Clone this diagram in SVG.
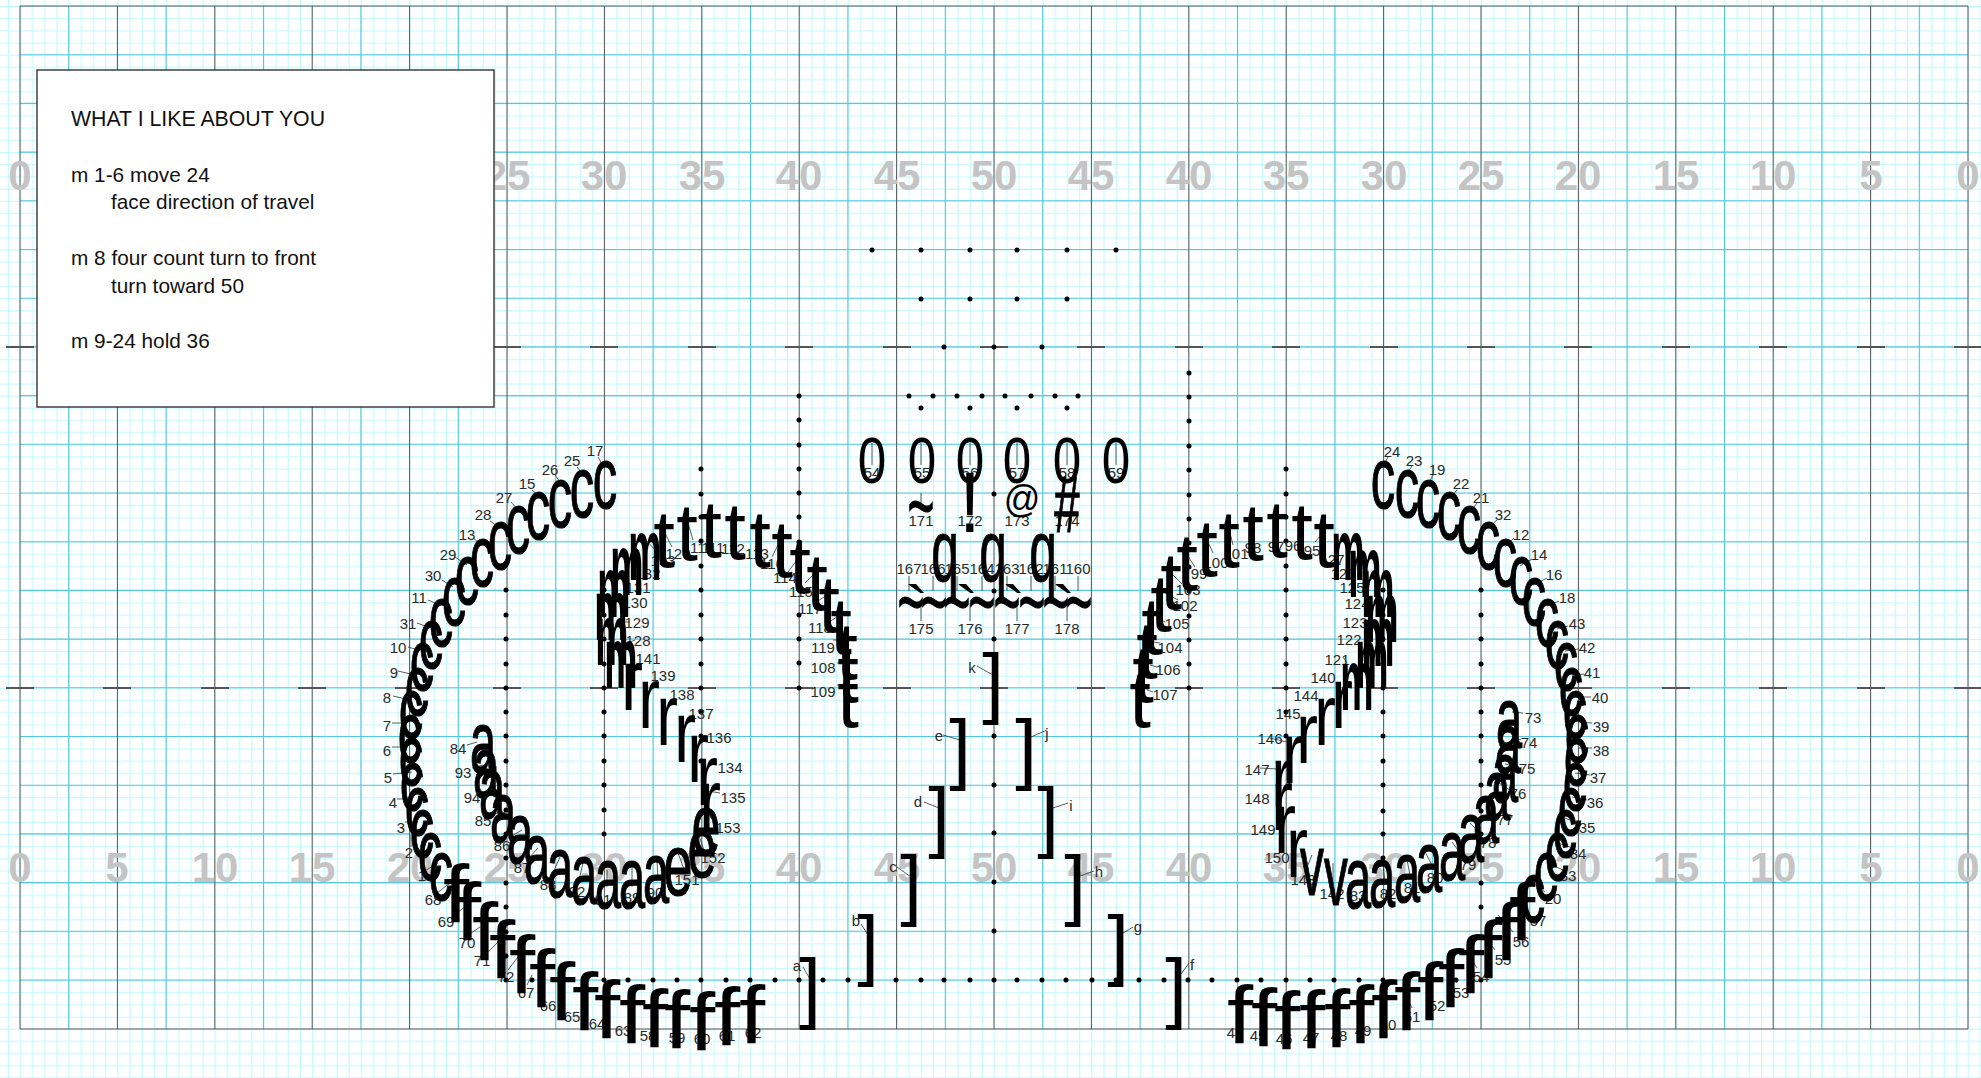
<svg xmlns="http://www.w3.org/2000/svg" width="1981" height="1078" viewBox="0 0 1981 1078">
<style>
text{font-family:"Liberation Sans",Arial,sans-serif}
.n{font-size:15px;text-anchor:middle;fill:#2a2a2a}
.y{font-size:42px;font-weight:700;text-anchor:middle;fill:#c4c4c4}
.b{font-size:20.8px;fill:#111}
.g{text-anchor:middle;fill:#000}
.c,.a,.e,.q,.v,.r,.w{font-size:87px}
.c,.a,.e,.q,.v,.h{stroke:#000;stroke-width:.9;vector-effect:non-scaling-stroke}
.t,.f{font-size:82px}
.m{font-size:87px;font-weight:700}
.z{font-size:64px}
.k{font-size:78px}
</style>
<defs>
<pattern id="fine" patternUnits="userSpaceOnUse" x="7.825" y="6" width="97.4" height="97.4">
<path d="M.5 0V97.4M12.675 0V97.4M24.85 0V97.4M37.025 0V97.4M49.2 0V97.4M61.375 0V97.4M73.55 0V97.4M85.725 0V97.4M0 .5H97.4M0 12.675H97.4M0 24.85H97.4M0 37.025H97.4M0 49.2H97.4M0 61.375H97.4M0 73.55H97.4M0 85.725H97.4" fill="none" stroke="#bdf9fc" stroke-width="1"/>
</pattern>
</defs>
<rect width="1981" height="1078" fill="#fff"/>
<rect width="1981" height="1078" fill="url(#fine)"/>
<g id="field">
<path fill="none" stroke="#58c6e0" stroke-width="1.1" d="M68.7 6V1029M166.1 6V1029M263.5 6V1029M360.9 6V1029M458.3 6V1029M555.7 6V1029M653.1 6V1029M750.5 6V1029M847.9 6V1029M945.3 6V1029M1042.7 6V1029M1140.1 6V1029M1237.5 6V1029M1334.9 6V1029M1432.3 6V1029M1529.7 6V1029M1627.1 6V1029M1724.5 6V1029M1821.9 6V1029M1919.3 6V1029M20 54.7H1968M20 103.4H1968M20 152.1H1968M20 200.8H1968M20 249.5H1968M20 298.2H1968M20 346.9H1968M20 395.6H1968M20 444.3H1968M20 493H1968M20 541.7H1968M20 590.4H1968M20 639.1H1968M20 687.8H1968M20 736.5H1968M20 785.2H1968M20 833.9H1968M20 882.6H1968M20 931.3H1968M20 980H1968"/>
<path fill="none" stroke="#555" stroke-width="1" d="M20 6V1029M117.4 6V1029M214.8 6V1029M312.2 6V1029M409.6 6V1029M507 6V1029M604.4 6V1029M701.8 6V1029M799.2 6V1029M896.6 6V1029M994 6V1029M1091.4 6V1029M1188.8 6V1029M1286.2 6V1029M1383.6 6V1029M1481 6V1029M1578.4 6V1029M1675.8 6V1029M1773.2 6V1029M1870.6 6V1029M1968 6V1029M20 6H1968M20 1029H1968"/>
<path fill="none" stroke="#555" stroke-width="2" d="M6 347h28M103 347h28M201 347h28M298 347h28M395 347h28M493 347h28M590 347h28M688 347h28M785 347h28M883 347h28M980 347h28M1077 347h28M1175 347h28M1272 347h28M1370 347h28M1467 347h28M1564 347h28M1662 347h28M1759 347h28M1857 347h28M1954 347h27M6 688h28M103 688h28M201 688h28M298 688h28M395 688h28M493 688h28M590 688h28M688 688h28M785 688h28M883 688h28M980 688h28M1077 688h28M1175 688h28M1272 688h28M1370 688h28M1467 688h28M1564 688h28M1662 688h28M1759 688h28M1857 688h28M1954 688h27"/>
</g>
<g id="yard-numbers" class="y">
<text class="y" x="20" y="190">0</text><text class="y" x="507" y="190">25</text><text class="y" x="604" y="190">30</text><text class="y" x="702" y="190">35</text><text class="y" x="799" y="190">40</text><text class="y" x="897" y="190">45</text><text class="y" x="994" y="190">50</text><text class="y" x="1091" y="190">45</text><text class="y" x="1189" y="190">40</text><text class="y" x="1286" y="190">35</text><text class="y" x="1384" y="190">30</text><text class="y" x="1481" y="190">25</text><text class="y" x="1578" y="190">20</text><text class="y" x="1676" y="190">15</text><text class="y" x="1773" y="190">10</text><text class="y" x="1871" y="190">5</text><text class="y" x="1968" y="190">0</text>
<text class="y" x="20" y="882">0</text><text class="y" x="117" y="882">5</text><text class="y" x="215" y="882">10</text><text class="y" x="312" y="882">15</text><text class="y" x="410" y="882">20</text><text class="y" x="507" y="882">25</text><text class="y" x="604" y="882">30</text><text class="y" x="702" y="882">35</text><text class="y" x="799" y="882">40</text><text class="y" x="897" y="882">45</text><text class="y" x="994" y="882">50</text><text class="y" x="1091" y="882">45</text><text class="y" x="1189" y="882">40</text><text class="y" x="1286" y="882">35</text><text class="y" x="1384" y="882">30</text><text class="y" x="1481" y="882">25</text><text class="y" x="1578" y="882">20</text><text class="y" x="1676" y="882">15</text><text class="y" x="1773" y="882">10</text><text class="y" x="1871" y="882">5</text><text class="y" x="1968" y="882">0</text>
</g>
<g id="note">
<rect x="37" y="70" width="457" height="337" fill="#fff" stroke="#333" stroke-width="1.4"/>
<text class="b" x="71" y="126" style="font-size:21.3px">WHAT I LIKE ABOUT YOU</text>
<text class="b" x="71" y="182">m 1-6 move 24</text>
<text class="b" x="111" y="209">face direction of travel</text>
<text class="b" x="71" y="265">m 8 four count turn to front</text>
<text class="b" x="111" y="293">turn toward 50</text>
<text class="b" x="71" y="348">m 9-24 hold 36</text>
</g>
<g id="dots">
<path fill="none" stroke="#000" stroke-width="5" stroke-linecap="round" d="M872 250h0M921 250h0M970 250h0M1017 250h0M1067 250h0M1116 250h0M921 299h0M970 299h0M1017 299h0M1067 299h0M944 347h0M994 347h0M1042 347h0M909 396h0M933 396h0M957 396h0M982 396h0M1005 396h0M1031 396h0M1055 396h0M1078 396h0M921 408h0M970 408h0M1017 408h0M1067 408h0M994 494h0M994 591h0M994 639h0M994 688h0M994 736h0M994 785h0M994 833h0M994 882h0M994 931h0
M799 396h0M799 420h0M799 445h0M799 469h0M799 493h0M799 517h0M799 542h0M799 566h0M799 590h0M799 615h0M799 639h0M799 663h0M799 688h0
M1189 373h0M1189 397h0M1189 421h0M1189 446h0M1189 470h0M1189 495h0M1189 519h0M1189 543h0M1189 567h0M1189 591h0M1189 616h0M1189 640h0M1189 664h0M1189 688h0
M506 590h0M506 615h0M506 639h0M506 664h0M506 688h0M506 712h0M506 736h0M506 761h0M506 785h0M506 810h0M506 834h0M506 858h0M506 883h0M506 907h0M506 932h0M506 956h0M506 980h0
M604 590h0M604 615h0M604 639h0M604 664h0M604 688h0M604 712h0M604 736h0M604 761h0M604 785h0M604 810h0M604 834h0
M701 469h0M701 494h0M701 517h0M701 541h0M701 566h0M701 590h0M701 615h0M701 639h0M701 664h0M701 688h0M701 712h0M701 736h0M701 761h0
M1286 469h0M1286 494h0M1286 517h0M1286 541h0M1286 566h0M1286 590h0M1286 615h0M1286 639h0M1286 664h0M1286 688h0M1286 712h0M1286 736h0
M1383 590h0M1383 615h0M1383 639h0M1383 664h0M1383 688h0M1383 712h0M1383 736h0M1383 761h0M1383 785h0M1383 811h0M1383 834h0M1383 858h0
M1481 590h0M1481 615h0M1481 639h0M1481 664h0M1481 688h0M1481 712h0M1481 736h0M1481 761h0M1481 785h0M1481 811h0M1481 834h0M1481 858h0M1481 883h0M1481 907h0
M532 980h0M604 980h0M628 980h0M653 980h0M677 980h0M701 980h0M726 980h0M750 980h0M775 980h0M799 980h0M823 980h0M848 980h0M896 980h0M921 980h0M944 980h0M970 980h0M994 980h0M1017 980h0M1042 980h0M1066 980h0M1092 980h0M1116 980h0M1139 980h0M1164 980h0M1188 980h0M1212 980h0M1237 980h0M1261 980h0M1286 980h0M1310 980h0M1334 980h0M1359 980h0M1383 980h0M1408 980h0M1432 980h0M1456 980h0M1481 980h0"/>
</g>
<g id="connectors">
<path fill="none" stroke="#333" stroke-width=".8" d="M598 457L602 464M577 467L582 473M555 475L560 482M532 490L538 495M511 502L518 510M490 521L500 528M473 538L482 545M455 557L467 565M442 580L453 587M428 600L440 605M417 623L428 627M408 647L418 650M398 671L415 675M393 696L410 700M392 723L407 723M392 747L405 747M393 774L412 772M397 799L410 799M405 822L417 822M411 835L411 847M423 872L438 863M437 893L450 883M452 917L467 905M468 935L480 927M487 953L500 940M508 970L518 957M527 985L532 975M728 1028L725 1003M753 1025L749 1000
M467 745L477 742M472 768L483 765M480 793L490 790M492 815L500 812M508 838L522 830M527 860L538 848M552 875L560 857M579 880L583 863M607 887L607 870M632 887L632 868M658 880L657 860
M685 872L678 853M705 853L697 830M717 822L707 815M717 764L710 763M720 793L708 791M658 553L643 537M672 547L665 533M693 540L688 523M772 557L778 545M788 572L797 560M805 583L813 575M815 603L827 595M827 623L837 617M833 640L842 640M837 663L845 662M837 685L845 684
M630 583L618 578M630 622L625 622M635 640L628 643
M1388 457L1385 463M1412 466L1408 472M1433 475L1429 483M1457 490L1450 498M1477 503L1472 510M1497 520L1488 528M1514 538L1505 547M1532 559L1520 566M1547 578L1533 585M1559 601L1547 606M1568 626L1557 629M1578 649L1565 651M1584 674L1572 675M1591 697L1577 697M1592 723L1578 722M1592 748L1578 748M1590 775L1575 773M1587 800L1572 797M1578 823L1565 818M1570 847L1558 843M1563 870L1552 865M1545 892L1533 883M1530 913L1522 903M1513 932L1498 915M1495 950L1485 937M1477 968L1467 952M1457 983L1448 970M1433 997L1427 980M1412 1008L1403 988M1385 1017L1380 997M1362 1023L1357 1003M1337 1028L1333 1007
M1385 882L1383 863M1410 875L1407 860M1432 865L1423 848M1463 857L1452 842M1482 835L1470 823M1498 815L1487 807M1510 790L1497 782M1517 767L1505 764M1521 740L1513 738M1523 713L1512 712
M1305 872L1312 855M1333 885L1333 863M1270 738L1287 742M1260 768L1277 769M1343 657L1347 663
M1153 692L1147 690M1157 667L1150 665M1160 643L1153 642M1165 622L1158 618M1178 600L1165 593M1182 584L1170 572M1195 567L1187 555M1213 553L1208 542M1233 545L1230 533M1315 542L1321 535
M872 443V465M921 443V465M970 443V465M1017 443V465M1067 443V465M1116 443V465M921 493V507M909 576V591M933 576V591M957 576V591M982 576V591M1007 576V591M1031 576V591M1055 576V591M1078 576V591M921 603V621M970 603V621M1017 603V621M1067 603V621
M977 666L993 675M943 735L960 740M1047 730L1031 737M924 802L939 808M1068 803L1053 808M897 867L911 877M1094 871L1080 876M861 924L868 935M1133 927L1123 933M803 967L810 979M1189 963L1181 974"/>
</g>
<g id="labels" class="n">
<text class="n" x="595" y="456">17</text><text class="n" x="572" y="466">25</text><text class="n" x="550" y="475">26</text><text class="n" x="527" y="489">15</text><text class="n" x="504" y="503">27</text><text class="n" x="483" y="520">28</text><text class="n" x="467" y="540">13</text><text class="n" x="448" y="560">29</text><text class="n" x="433" y="581">30</text><text class="n" x="419" y="603">11</text><text class="n" x="408" y="629">31</text><text class="n" x="398" y="653">10</text><text class="n" x="394" y="678">9</text><text class="n" x="387" y="703">8</text><text class="n" x="387" y="731">7</text><text class="n" x="387" y="756">6</text><text class="n" x="388" y="783">5</text><text class="n" x="393" y="808">4</text><text class="n" x="401" y="833">3</text><text class="n" x="409" y="858">2</text><text class="n" x="422" y="881">1</text><text class="n" x="433" y="905">68</text><text class="n" x="446" y="927">69</text><text class="n" x="467" y="948">70</text><text class="n" x="482" y="966">71</text><text class="n" x="506" y="982">72</text><text class="n" x="526" y="998">67</text><text class="n" x="548" y="1011">66</text><text class="n" x="572" y="1022">65</text><text class="n" x="597" y="1029">64</text><text class="n" x="623" y="1036">63</text><text class="n" x="648" y="1041">58</text><text class="n" x="677" y="1043">59</text><text class="n" x="702" y="1044">60</text><text class="n" x="727" y="1041">61</text><text class="n" x="753" y="1038">62</text>
<text class="n" x="458" y="754">84</text><text class="n" x="463" y="778">93</text><text class="n" x="472" y="803">94</text><text class="n" x="483" y="826">85</text><text class="n" x="502" y="851">86</text><text class="n" x="522" y="873">87</text><text class="n" x="548" y="890">88</text><text class="n" x="577" y="897">92</text><text class="n" x="603" y="905">91</text><text class="n" x="632" y="903">89</text><text class="n" x="655" y="898">90</text>
<text class="n" x="687" y="885">151</text><text class="n" x="713" y="863">152</text><text class="n" x="728" y="833">153</text><text class="n" x="730" y="773">134</text><text class="n" x="733" y="803">135</text><text class="n" x="719" y="743">136</text><text class="n" x="701" y="719">137</text><text class="n" x="682" y="700">138</text><text class="n" x="663" y="681">139</text><text class="n" x="648" y="664">141</text>
<text class="n" x="638" y="646">128</text><text class="n" x="637" y="628">129</text><text class="n" x="635" y="608">130</text><text class="n" x="638" y="593">131</text><text class="n" x="648" y="579">132</text><text class="n" x="663" y="566">133</text>
<text class="n" x="678" y="559">120</text><text class="n" x="702" y="553">110</text><text class="n" x="713" y="553">111</text><text class="n" x="733" y="554">112</text><text class="n" x="757" y="559">113</text><text class="n" x="772" y="569">116</text><text class="n" x="785" y="583">114</text><text class="n" x="801" y="597">115</text><text class="n" x="810" y="614">117</text><text class="n" x="820" y="633">118</text><text class="n" x="823" y="653">119</text><text class="n" x="823" y="673">108</text><text class="n" x="823" y="697">109</text>
<text class="n" x="1392" y="457">24</text><text class="n" x="1414" y="466">23</text><text class="n" x="1437" y="475">19</text><text class="n" x="1461" y="489">22</text><text class="n" x="1481" y="503">21</text><text class="n" x="1503" y="520">32</text><text class="n" x="1521" y="540">12</text><text class="n" x="1539" y="560">14</text><text class="n" x="1554" y="580">16</text><text class="n" x="1567" y="603">18</text><text class="n" x="1577" y="629">43</text><text class="n" x="1587" y="653">42</text><text class="n" x="1592" y="678">41</text><text class="n" x="1600" y="703">40</text><text class="n" x="1601" y="732">39</text><text class="n" x="1601" y="756">38</text><text class="n" x="1598" y="783">37</text><text class="n" x="1595" y="808">36</text><text class="n" x="1587" y="833">35</text><text class="n" x="1578" y="859">34</text><text class="n" x="1568" y="881">33</text><text class="n" x="1553" y="904">20</text><text class="n" x="1538" y="926">57</text><text class="n" x="1521" y="947">56</text><text class="n" x="1503" y="965">55</text><text class="n" x="1481" y="982">54</text><text class="n" x="1461" y="998">53</text><text class="n" x="1437" y="1011">52</text><text class="n" x="1412" y="1022">51</text><text class="n" x="1388" y="1030">50</text><text class="n" x="1363" y="1036">49</text><text class="n" x="1339" y="1041">48</text><text class="n" x="1311" y="1043">47</text><text class="n" x="1284" y="1044">46</text><text class="n" x="1258" y="1041">45</text><text class="n" x="1235" y="1038">44</text>
<text class="n" x="1358" y="901">83</text><text class="n" x="1388" y="899">82</text><text class="n" x="1412" y="893">81</text><text class="n" x="1435" y="883">80</text><text class="n" x="1468" y="870">79</text><text class="n" x="1488" y="848">78</text><text class="n" x="1505" y="825">77</text><text class="n" x="1518" y="799">76</text><text class="n" x="1527" y="774">75</text><text class="n" x="1529" y="748">74</text><text class="n" x="1533" y="723">73</text>
<text class="n" x="1332" y="565">127</text><text class="n" x="1343" y="579">126</text><text class="n" x="1352" y="593">125</text><text class="n" x="1357" y="609">124</text><text class="n" x="1355" y="628">123</text><text class="n" x="1349" y="645">122</text><text class="n" x="1337" y="665">121</text><text class="n" x="1323" y="683">140</text><text class="n" x="1306" y="701">144</text><text class="n" x="1288" y="719">145</text><text class="n" x="1270" y="744">146</text><text class="n" x="1257" y="775">147</text><text class="n" x="1257" y="804">148</text><text class="n" x="1263" y="835">149</text><text class="n" x="1277" y="863">150</text><text class="n" x="1303" y="885">143</text><text class="n" x="1332" y="899">142</text>
<text class="n" x="1165" y="700">107</text><text class="n" x="1168" y="675">106</text><text class="n" x="1170" y="653">104</text><text class="n" x="1177" y="629">105</text><text class="n" x="1185" y="611">102</text><text class="n" x="1188" y="595">103</text><text class="n" x="1199" y="579">99</text><text class="n" x="1216" y="568">100</text><text class="n" x="1236" y="559">101</text><text class="n" x="1253" y="553">98</text><text class="n" x="1276" y="552">97</text><text class="n" x="1293" y="551">96</text><text class="n" x="1312" y="556">95</text>
<text class="n" x="872" y="478">54</text><text class="n" x="922" y="478">55</text><text class="n" x="970" y="478">56</text><text class="n" x="1017" y="478">57</text><text class="n" x="1067" y="478">58</text><text class="n" x="1116" y="478">59</text>
<text class="n" x="921" y="526">171</text><text class="n" x="970" y="526">172</text><text class="n" x="1017" y="526">173</text><text class="n" x="1067" y="526">174</text>
<text class="n" x="909" y="574">167</text><text class="n" x="933" y="574">166</text><text class="n" x="957" y="574">165</text><text class="n" x="982" y="574">164</text><text class="n" x="1007" y="574">163</text><text class="n" x="1031" y="574">162</text><text class="n" x="1055" y="574">161</text><text class="n" x="1078" y="574">160</text>
<text class="n" x="921" y="634">175</text><text class="n" x="970" y="634">176</text><text class="n" x="1017" y="634">177</text><text class="n" x="1067" y="634">178</text>
<text class="n" x="972" y="673">k</text><text class="n" x="939" y="741">e</text><text class="n" x="1047" y="739">j</text><text class="n" x="918" y="807">d</text><text class="n" x="1071" y="811">i</text><text class="n" x="893" y="872">c</text><text class="n" x="1099" y="877">h</text><text class="n" x="856" y="926">b</text><text class="n" x="1138" y="932">g</text><text class="n" x="797" y="971">a</text><text class="n" x="1192" y="970">f</text>
</g>
<g id="performers">
<g id="left-c">
<text class="g c" transform="translate(605,508) scale(.56,1)">c</text><text class="g c" transform="translate(582,517) scale(.56,1)">c</text><text class="g c" transform="translate(560,527) scale(.56,1)">c</text><text class="g c" transform="translate(538,539) scale(.56,1)">c</text><text class="g c" transform="translate(518,553) scale(.56,1)">c</text><text class="g c" transform="translate(500,569) scale(.56,1)">c</text><text class="g c" transform="translate(482,586) scale(.56,1)">c</text><text class="g c" transform="translate(467,604) scale(.56,1)">c</text><text class="g c" transform="translate(454,625) scale(.56,1)">c</text><text class="g c" transform="translate(441,646) scale(.56,1)">c</text><text class="g c" transform="translate(431,668) scale(.56,1)">c</text><text class="g c" transform="translate(422,690) scale(.56,1)">c</text><text class="g c" transform="translate(417,715) scale(.56,1)">c</text><text class="g c" transform="translate(411,738) scale(.56,1)">c</text><text class="g c" transform="translate(410,762) scale(.56,1)">c</text><text class="g c" transform="translate(411,785) scale(.56,1)">c</text><text class="g c" transform="translate(412,810) scale(.56,1)">c</text><text class="g c" transform="translate(417,835) scale(.56,1)">c</text><text class="g c" transform="translate(422,857) scale(.56,1)">c</text><text class="g c" transform="translate(430,880) scale(.56,1)">c</text><text class="g c" transform="translate(441,900) scale(.56,1)">c</text>
</g>
<g id="left-f">
<text class="g f" transform="translate(456,922) scale(1.15,1)">f</text><text class="g f" transform="translate(468,940) scale(1.15,1)">f</text><text class="g f" transform="translate(485,960) scale(1.15,1)">f</text><text class="g f" transform="translate(502,978) scale(1.15,1)">f</text><text class="g f" transform="translate(522,993) scale(1.15,1)">f</text><text class="g f" transform="translate(542,1007) scale(1.15,1)">f</text><text class="g f" transform="translate(562,1020) scale(1.15,1)">f</text><text class="g f" transform="translate(585,1030) scale(1.15,1)">f</text><text class="g f" transform="translate(607,1038) scale(1.15,1)">f</text><text class="g f" transform="translate(632,1043) scale(1.15,1)">f</text><text class="g f" transform="translate(655,1047) scale(1.15,1)">f</text><text class="g f" transform="translate(677,1048) scale(1.15,1)">f</text><text class="g f" transform="translate(702,1050) scale(1.15,1)">f</text><text class="g f" transform="translate(727,1045) scale(1.15,1)">f</text><text class="g f" transform="translate(752,1043) scale(1.15,1)">f</text>
</g>
<g id="right-f">
<text class="g f" transform="translate(1240,1043) scale(1.15,1)">f</text><text class="g f" transform="translate(1264,1046) scale(1.15,1)">f</text><text class="g f" transform="translate(1287,1049) scale(1.15,1)">f</text><text class="g f" transform="translate(1312,1048) scale(1.15,1)">f</text><text class="g f" transform="translate(1337,1047) scale(1.15,1)">f</text><text class="g f" transform="translate(1361,1043) scale(1.15,1)">f</text><text class="g f" transform="translate(1384,1038) scale(1.15,1)">f</text><text class="g f" transform="translate(1407,1030) scale(1.15,1)">f</text><text class="g f" transform="translate(1430,1020) scale(1.15,1)">f</text><text class="g f" transform="translate(1451,1007) scale(1.15,1)">f</text><text class="g f" transform="translate(1471,993) scale(1.15,1)">f</text><text class="g f" transform="translate(1489,978) scale(1.15,1)">f</text><text class="g f" transform="translate(1507,960) scale(1.15,1)">f</text><text class="g f" transform="translate(1522,940) scale(1.15,1)">f</text>
</g>
<g id="right-c">
<text class="g c" transform="translate(1383,508) scale(.56,1)">c</text><text class="g c" transform="translate(1407,517) scale(.56,1)">c</text><text class="g c" transform="translate(1428,527) scale(.56,1)">c</text><text class="g c" transform="translate(1449,539) scale(.56,1)">c</text><text class="g c" transform="translate(1469,553) scale(.56,1)">c</text><text class="g c" transform="translate(1488,569) scale(.56,1)">c</text><text class="g c" transform="translate(1505,586) scale(.56,1)">c</text><text class="g c" transform="translate(1521,604) scale(.56,1)">c</text><text class="g c" transform="translate(1534,625) scale(.56,1)">c</text><text class="g c" transform="translate(1547,646) scale(.56,1)">c</text><text class="g c" transform="translate(1557,668) scale(.56,1)">c</text><text class="g c" transform="translate(1566,690) scale(.56,1)">c</text><text class="g c" transform="translate(1571,715) scale(.56,1)">c</text><text class="g c" transform="translate(1575,738) scale(.56,1)">c</text><text class="g c" transform="translate(1577,762) scale(.56,1)">c</text><text class="g c" transform="translate(1576,785) scale(.56,1)">c</text><text class="g c" transform="translate(1575,810) scale(.56,1)">c</text><text class="g c" transform="translate(1570,835) scale(.56,1)">c</text><text class="g c" transform="translate(1565,857) scale(.56,1)">c</text><text class="g c" transform="translate(1557,880) scale(.56,1)">c</text><text class="g c" transform="translate(1546,900) scale(.56,1)">c</text><text class="g c" transform="translate(1533,922) scale(.56,1)">c</text>
</g>
<g id="left-a">
<text class="g a" transform="translate(483,772) scale(.54,1)">a</text><text class="g a" transform="translate(486,797) scale(.54,1)">a</text><text class="g a" transform="translate(492,818) scale(.54,1)">a</text><text class="g a" transform="translate(503,842) scale(.54,1)">a</text><text class="g a" transform="translate(520,863) scale(.54,1)">a</text><text class="g a" transform="translate(537,883) scale(.54,1)">a</text><text class="g a" transform="translate(560,897) scale(.54,1)">a</text><text class="g a" transform="translate(584,904) scale(.54,1)">a</text><text class="g a" transform="translate(608,908) scale(.54,1)">a</text><text class="g a" transform="translate(632,908) scale(.54,1)">a</text><text class="g a" transform="translate(656,903) scale(.54,1)">a</text>
</g>
<g id="left-e">
<text class="g e" transform="translate(678,895) scale(.6,1)">e</text><text class="g e" transform="translate(702,877) scale(.6,1)">e</text><text class="g e" transform="translate(706,855) scale(.6,1)">e</text>
</g>
<g id="left-r">
<text class="g r" transform="translate(632,710) scale(.75,1)">r</text><text class="g r" transform="translate(649,728) scale(.75,1)">r</text><text class="g r" transform="translate(667,745) scale(.75,1)">r</text><text class="g r" transform="translate(685,762) scale(.75,1)">r</text><text class="g r" transform="translate(698,782) scale(.75,1)">r</text><text class="g r" transform="translate(707,805) scale(.75,1)">r</text><text class="g r" transform="translate(710,830) scale(.75,1)">r</text>
</g>
<g id="left-m">
<text class="g m" transform="translate(645,580) scale(.43,1)">m</text><text class="g m" transform="translate(627,595) scale(.43,1)">m</text><text class="g m" transform="translate(614,617) scale(.43,1)">m</text><text class="g m" transform="translate(611,640) scale(.43,1)">m</text><text class="g m" transform="translate(612,665) scale(.43,1)">m</text><text class="g m" transform="translate(621,688) scale(.43,1)">m</text>
</g>
<g id="left-t">
<text class="g t" transform="translate(664,567) scale(.95,1)">t</text><text class="g t" transform="translate(687,560) scale(.95,1)">t</text><text class="g t" transform="translate(711,557) scale(.95,1)">t</text><text class="g t" transform="translate(735,559) scale(.95,1)">t</text><text class="g t" transform="translate(760,567) scale(.95,1)">t</text><text class="g t" transform="translate(782,577) scale(.95,1)">t</text><text class="g t" transform="translate(800,593) scale(.95,1)">t</text><text class="g t" transform="translate(817,610) scale(.95,1)">t</text><text class="g t" transform="translate(829,632) scale(.95,1)">t</text><text class="g t" transform="translate(841,654) scale(.95,1)">t</text><text class="g t" transform="translate(847,679) scale(.95,1)">t</text><text class="g t" transform="translate(848,702) scale(.95,1)">t</text><text class="g t" transform="translate(848,727) scale(.95,1)">t</text>
</g>
<g id="right-t">
<text class="g t" transform="translate(1140,727) scale(.95,1)">t</text><text class="g t" transform="translate(1143,702) scale(.95,1)">t</text><text class="g t" transform="translate(1147,678) scale(.95,1)">t</text><text class="g t" transform="translate(1152,654) scale(.95,1)">t</text><text class="g t" transform="translate(1161,631) scale(.95,1)">t</text><text class="g t" transform="translate(1171,609) scale(.95,1)">t</text><text class="g t" transform="translate(1187,590) scale(.95,1)">t</text><text class="g t" transform="translate(1207,576) scale(.95,1)">t</text><text class="g t" transform="translate(1229,567) scale(.95,1)">t</text><text class="g t" transform="translate(1253,560) scale(.95,1)">t</text><text class="g t" transform="translate(1277,557) scale(.95,1)">t</text><text class="g t" transform="translate(1302,559) scale(.95,1)">t</text><text class="g t" transform="translate(1324,567) scale(.95,1)">t</text>
</g>
<g id="right-m">
<text class="g m" transform="translate(1348,580) scale(.43,1)">m</text><text class="g m" transform="translate(1365,597) scale(.43,1)">m</text><text class="g m" transform="translate(1378,617) scale(.43,1)">m</text><text class="g m" transform="translate(1382,642) scale(.43,1)">m</text><text class="g m" transform="translate(1378,666) scale(.43,1)">m</text><text class="g m" transform="translate(1372,688) scale(.43,1)">m</text><text class="g m" transform="translate(1357,710) scale(.43,1)">m</text>
</g>
<g id="right-r">
<text class="g r" transform="translate(1342,728) scale(.75,1)">r</text><text class="g r" transform="translate(1325,745) scale(.75,1)">r</text><text class="g r" transform="translate(1307,763) scale(.75,1)">r</text><text class="g r" transform="translate(1293,783) scale(.75,1)">r</text><text class="g r" transform="translate(1282,807) scale(.75,1)">r</text><text class="g r" transform="translate(1282,830) scale(.75,1)">r</text><text class="g r" transform="translate(1285,853) scale(.75,1)">r</text><text class="g r" transform="translate(1297,877) scale(.75,1)">r</text>
<text class="g v" transform="translate(1312,895) scale(.55,1)">v</text><text class="g v" transform="translate(1336,905) scale(.55,1)">v</text>
</g>
<g id="right-a">
<text class="g a" transform="translate(1358,908) scale(.54,1)">a</text><text class="g a" transform="translate(1382,907) scale(.54,1)">a</text><text class="g a" transform="translate(1407,902) scale(.54,1)">a</text><text class="g a" transform="translate(1429,892) scale(.54,1)">a</text><text class="g a" transform="translate(1452,880) scale(.54,1)">a</text><text class="g a" transform="translate(1471,862) scale(.54,1)">a</text><text class="g a" transform="translate(1486,843) scale(.54,1)">a</text><text class="g a" transform="translate(1497,820) scale(.54,1)">a</text><text class="g a" transform="translate(1505,802) scale(.54,1)">a</text><text class="g a" transform="translate(1508,773) scale(.54,1)">a</text><text class="g a" transform="translate(1509,748) scale(.54,1)">a</text>
</g>
<g id="center">
<text class="g z" transform="translate(872,483) scale(.8,1)">0</text><text class="g z" transform="translate(922,483) scale(.8,1)">0</text><text class="g z" transform="translate(970,483) scale(.8,1)">0</text><text class="g z" transform="translate(1017,483) scale(.8,1)">0</text><text class="g z" transform="translate(1067,483) scale(.8,1)">0</text><text class="g z" transform="translate(1116,483) scale(.8,1)">0</text>
<text class="g" font-size="85" transform="translate(970,532) scale(.9,1)">!</text>
<text class="g" font-size="38" transform="translate(1022,512) scale(.95,1)">@</text>
<text class="g h" font-size="80" transform="translate(1067,532) scale(.57,1)">#</text>
<text class="g c" transform="translate(921,536) scale(.53,1)">~</text>
<text class="g q" transform="translate(945,581) scale(.57,1)">q</text><text class="g q" transform="translate(993,581) scale(.57,1)">q</text><text class="g q" transform="translate(1043,581) scale(.57,1)">q</text>
<text class="g" font-size="60" transform="translate(917,628) scale(1.2,1)">`</text><text class="g" font-size="60" transform="translate(967,628) scale(1.2,1)">`</text><text class="g" font-size="60" transform="translate(1014,628) scale(1.2,1)">`</text><text class="g" font-size="60" transform="translate(1064,628) scale(1.2,1)">`</text>
<text class="g c" transform="translate(911,632) scale(.53,1)">~</text><text class="g c" transform="translate(934,632) scale(.53,1)">~</text><text class="g c" transform="translate(957,632) scale(.53,1)">~</text><text class="g c" transform="translate(982,632) scale(.53,1)">~</text><text class="g c" transform="translate(1007,632) scale(.53,1)">~</text><text class="g c" transform="translate(1032,632) scale(.53,1)">~</text><text class="g c" transform="translate(1056,632) scale(.53,1)">~</text><text class="g c" transform="translate(1079,632) scale(.53,1)">~</text>
</g>
<g id="brackets">
<text class="g k" transform="translate(993,709)">]</text><text class="g k" transform="translate(960,775)">]</text><text class="g k" transform="translate(1026,775)">]</text><text class="g k" transform="translate(939,843)">]</text><text class="g k" transform="translate(1048,843)">]</text><text class="g k" transform="translate(911,911)">]</text><text class="g k" transform="translate(1075,911)">]</text><text class="g k" transform="translate(868,971)">]</text><text class="g k" transform="translate(1118,971)">]</text><text class="g k" transform="translate(810,1014)">]</text><text class="g k" transform="translate(1176,1014)">]</text>
</g>
</g>
</svg>
